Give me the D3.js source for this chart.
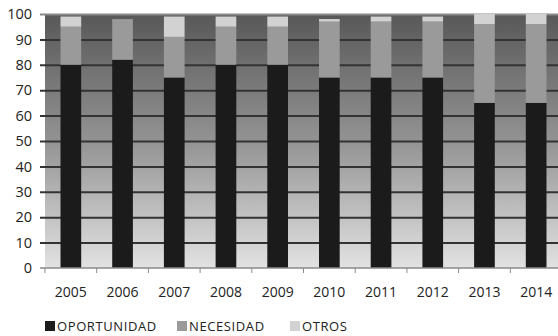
<!DOCTYPE html>
<html>
<head>
<meta charset="utf-8">
<script src="https://cdn.jsdelivr.net/npm/d3@7"></script>
<style>
  body { margin: 0; background: #fff; }
  text { font-family: "Open Sans", sans-serif; fill: #222; }
</style>
</head>
<body>
<svg class="chart"></svg>
<script>
// data
var years = ["2005", "2006", "2007", "2008", "2009", "2010", "2011", "2012", "2013", "2014"];
var oportunidad = [80, 82, 75, 80, 80, 75, 75, 75, 65, 65];
var necesidad   = [15, 16, 16, 15, 15, 22, 22, 22, 31, 31];
var otros       = [4, 0, 8, 4, 4, 1, 2, 2, 4, 4];
var seriesNames = ["OPORTUNIDAD", "NECESIDAD", "OTROS"];
var yTicks = [0, 10, 20, 30, 40, 50, 60, 70, 80, 90, 100];

var width = 558, height = 336;
var margin = {top: 14, right: -4, bottom: 68, left: 45};
var fillSelector = {
  "OPORTUNIDAD": "#1b1b1b",
  "NECESIDAD": "#9a9a9a",
  "OTROS": "#d2d2d2"
};

var chart = d3.select(".chart")
    .attr("width", width)
    .attr("height", height);

var table = years.map(function(y, i) {
  return {year: y, OPORTUNIDAD: oportunidad[i], NECESIDAD: necesidad[i], OTROS: otros[i]};
});

var xScale = d3.scaleBand()
    .domain(years)
    .range([margin.left, width - margin.right])
    .paddingInner(0.6)
    .paddingOuter(0.3);

var yScale = d3.scaleLinear()
    .domain([0, 100])
    .range([height - margin.bottom, margin.top]);

// background gradient of the plot area
var grad = chart.append("defs").append("linearGradient")
    .attr("id", "bg")
    .attr("x1", 0).attr("y1", 0).attr("x2", 0).attr("y2", 1);
grad.append("stop").attr("offset", "0%").attr("stop-color", "#585858");
grad.append("stop").attr("offset", "50%").attr("stop-color", "#939393");
grad.append("stop").attr("offset", "100%").attr("stop-color", "#e2e2e2");

chart.append("rect")
    .attr("x", margin.left)
    .attr("y", yScale(100))
    .attr("width", width - margin.right - margin.left)
    .attr("height", yScale(0) - yScale(100))
    .attr("fill", "url(#bg)");

// gridlines + y axis
chart.append("g")
    .attr("class", "grid")
    .attr("transform", "translate(" + margin.left + ",0)")
    .call(d3.axisLeft(yScale)
        .tickValues(yTicks)
        .tickSize(-(width - margin.right - margin.left))
        .tickSizeOuter(0)
        .tickPadding(13))
    .call(function(g) {
      g.select(".domain").remove();
      g.selectAll(".tick line")
        .attr("x1", -5)
        .attr("stroke", function(d) { return d == 100 ? "#8a8a8a" : "#333"; })
        .attr("stroke-width", function(d) { return d == 0 ? 0 : 2; });
      g.selectAll(".tick text")
        .style("font-size", "14.5px")
        .attr("fill", "#1e1e1e");
    });

// stacked bars
var stack = d3.stack().keys(seriesNames)(table);

chart.append("g").selectAll("g")
  .data(stack)
  .enter().append("g")
    .attr("fill", function(d) { return fillSelector[d.key]; })
  .selectAll("rect")
  .data(function(d) { return d; })
  .enter().append("rect")
    .attr("x", function(d) { return xScale(d.data.year); })
    .attr("y", function(d) { return yScale(d[1]); })
    .attr("width", xScale.bandwidth())
    .attr("height", function(d) { return yScale(d[0]) - yScale(d[1]); });

// x axis
var xAxis = chart.append("g")
    .attr("transform", "translate(0," + yScale(0) + ")");

xAxis.append("line")
    .attr("x1", margin.left - 5)
    .attr("x2", width)
    .attr("stroke", "#8a8a8a")
    .attr("stroke-width", 1.5);

xAxis.selectAll(".xtick")
  .data(years)
  .enter().append("line")
    .attr("x1", function(d) { return xScale(d) - xScale.step() * 0.3; })
    .attr("x2", function(d) { return xScale(d) - xScale.step() * 0.3; })
    .attr("y1", 0)
    .attr("y2", 5)
    .attr("stroke", "#8a8a8a");

xAxis.selectAll(".xlab")
  .data(years)
  .enter().append("text")
    .attr("x", function(d) { return xScale(d) + xScale.bandwidth() / 2; })
    .attr("y", 29)
    .attr("text-anchor", "middle")
    .style("font-size", "14px")
    .text(function(d) { return d; });

// legend
var legendX = [45, 177, 290];
var legend = chart.append("g").selectAll("g")
  .data(seriesNames)
  .enter().append("g")
    .attr("transform", function(d, i) { return "translate(" + legendX[i] + ",321)"; });

legend.append("rect")
    .attr("width", 10)
    .attr("height", 10)
    .attr("fill", function(d) { return fillSelector[d]; });

legend.append("text")
    .attr("x", 12)
    .attr("y", 10)
    .style("font-size", "13px")
    .style("letter-spacing", "0.6px")
    .text(function(d) { return d; });
</script>
</body>
</html>
